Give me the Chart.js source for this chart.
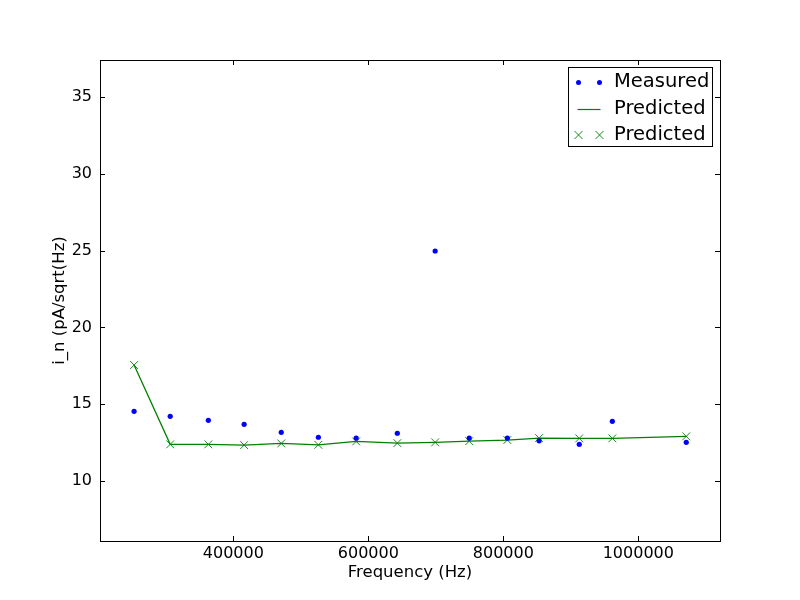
<!DOCTYPE html>
<html>
<head>
<meta charset="utf-8">
<title>i_n vs Frequency</title>
<script src="https://cdn.jsdelivr.net/npm/chart.js@4/dist/chart.umd.min.js"></script>
<style>
  html, body { margin: 0; padding: 0; background: #fff; }
  #noiseChart { display: block; }
</style>
</head>
<body>
<canvas id="noiseChart" width="800" height="600"></canvas>
<script>
// Measurement frequencies (Hz) and noise values (pA/sqrt(Hz))
const frequencies = [253000, 306500, 363000, 416000, 471000, 526000, 582000, 643000, 699000, 749500, 806000, 853000, 912500, 961500, 1071000];
const measured = [14.54, 14.21, 13.95, 13.69, 13.17, 12.85, 12.80, 13.11, 24.97, 12.80, 12.80, 12.62, 12.39, 13.89, 12.52];
const predicted = [17.55, 12.39, 12.39, 12.34, 12.45, 12.36, 12.58, 12.47, 12.52, 12.60, 12.67, 12.80, 12.78, 12.78, 12.91];

// Axis ticks and limits
const xTicks = [400000, 600000, 800000, 1000000];
const yTicks = [10, 15, 20, 25, 30, 35];
const xRange = [202500, 1121000];
const yRange = [6.1, 37.4];

const legendLabels = ['Measured', 'Predicted', 'Predicted'];

const FONT = 'DejaVu Sans';
const BLUE = '#0000ff';
const GREEN = '#008000';

function toPoints(values) {
  return frequencies.map((f, i) => ({ x: f, y: values[i] }));
}

// Draws the box round the plot and the inward tick marks on all four sides
const framePlugin = {
  id: 'frame',
  afterDraw(chart) {
    const { ctx, chartArea: a, scales } = chart;
    ctx.save();
    ctx.strokeStyle = '#000';
    ctx.lineWidth = 1;
    ctx.beginPath();
    xTicks.forEach(v => {
      const px = Math.round(scales.x.getPixelForValue(v)) + 0.5;
      ctx.moveTo(px, a.bottom); ctx.lineTo(px, a.bottom - 5);
      ctx.moveTo(px, a.top); ctx.lineTo(px, a.top + 5);
    });
    yTicks.forEach(v => {
      const py = Math.round(scales.y.getPixelForValue(v)) + 0.5;
      ctx.moveTo(a.left, py); ctx.lineTo(a.left + 5, py);
      ctx.moveTo(a.right, py); ctx.lineTo(a.right - 5, py);
    });
    ctx.stroke();
    ctx.strokeRect(Math.round(a.left) + 0.5, Math.round(a.top) + 0.5,
      Math.round(a.right - a.left), Math.round(a.bottom - a.top));
    ctx.restore();
  }
};

// matplotlib-style legend: two markers per entry, framed box top right
const legendPlugin = {
  id: 'mplLegend',
  afterDraw(chart) {
    const ctx = chart.ctx;
    const a = chart.chartArea;
    const boxX = a.right - 151.5, boxY = a.top + 7.5, boxW = 144, boxH = 79;
    ctx.save();
    ctx.fillStyle = '#fff';
    ctx.fillRect(boxX, boxY, boxW, boxH);
    ctx.strokeStyle = '#000';
    ctx.lineWidth = 1;
    ctx.strokeRect(boxX, boxY, boxW, boxH);

    const rowBase = [87, 113.5, 139.5];
    const m1 = boxX + 10, m2 = boxX + 31;
    legendLabels.forEach((label, i) => {
      const my = rowBase[i] - 4.5;
      if (i === 0) {
        ctx.fillStyle = BLUE;
        [m1, m2].forEach(mx => {
          ctx.beginPath(); ctx.arc(mx, my, 2.5, 0, Math.PI * 2); ctx.fill();
        });
      } else if (i === 1) {
        ctx.strokeStyle = GREEN;
        ctx.lineWidth = 1.2;
        ctx.beginPath(); ctx.moveTo(m1 - 1, my + 0.5); ctx.lineTo(m2 + 1, my + 0.5); ctx.stroke();
      } else {
        ctx.strokeStyle = GREEN;
        ctx.lineWidth = 0.9;
        ctx.beginPath();
        [m1, m2].forEach(mx => {
          ctx.moveTo(mx - 4, my - 4); ctx.lineTo(mx + 4, my + 4);
          ctx.moveTo(mx - 4, my + 4); ctx.lineTo(mx + 4, my - 4);
        });
        ctx.stroke();
      }
      ctx.fillStyle = '#000';
      ctx.font = '19.5px "' + FONT + '"';
      ctx.textBaseline = 'alphabetic';
      ctx.fillText(label, boxX + 45.5, rowBase[i]);
    });
    ctx.restore();
  }
};

Chart.defaults.font.family = FONT;
Chart.defaults.font.size = 16;
Chart.defaults.color = '#000';

const ctx = document.getElementById('noiseChart').getContext('2d');
new Chart(ctx, {
  type: 'scatter',
  data: {
    datasets: [
      {
        label: legendLabels[0],
        data: toPoints(measured),
        showLine: false,
        pointStyle: 'circle',
        pointRadius: 2.6,
        pointBackgroundColor: BLUE,
        pointBorderColor: BLUE,
        pointBorderWidth: 0
      },
      {
        label: legendLabels[1],
        data: toPoints(predicted),
        showLine: true,
        borderColor: GREEN,
        borderWidth: 1.3,
        tension: 0,
        pointRadius: 0
      },
      {
        label: legendLabels[2],
        data: toPoints(predicted),
        showLine: false,
        pointStyle: 'crossRot',
        pointRadius: 5.5,
        pointBorderColor: GREEN,
        pointBorderWidth: 0.9,
        pointBackgroundColor: GREEN
      }
    ]
  },
  options: {
    responsive: false,
    animation: false,
    devicePixelRatio: 1,
    layout: { padding: { left: 40, right: 80, top: 60, bottom: 0 } },
    plugins: {
      legend: { display: false },
      tooltip: { enabled: false }
    },
    scales: {
      x: {
        type: 'linear',
        min: xRange[0],
        max: xRange[1],
        grid: { display: false, drawTicks: false },
        border: { display: false },
        afterBuildTicks: axis => { axis.ticks = xTicks.map(v => ({ value: v })); },
        afterFit: scale => { scale.height = 59; },
        ticks: { padding: 3, maxRotation: 0, callback: v => String(v) },
        title: { display: true, text: 'Frequency (Hz)', font: { size: 16.5 }, padding: { top: 4, bottom: 17 } }
      },
      y: {
        type: 'linear',
        min: yRange[0],
        max: yRange[1],
        grid: { display: false, drawTicks: false },
        border: { display: false },
        afterBuildTicks: axis => { axis.ticks = yTicks.map(v => ({ value: v })); },
        afterFit: scale => { scale.width = 60; },
        ticks: { padding: 8, callback: v => String(v) },
        title: { display: true, text: 'i_n (pA/sqrt(Hz)', font: { size: 16.5 }, padding: { top: 10, bottom: 0 } }
      }
    }
  },
  plugins: [framePlugin, legendPlugin]
});
</script>
</body>
</html>
